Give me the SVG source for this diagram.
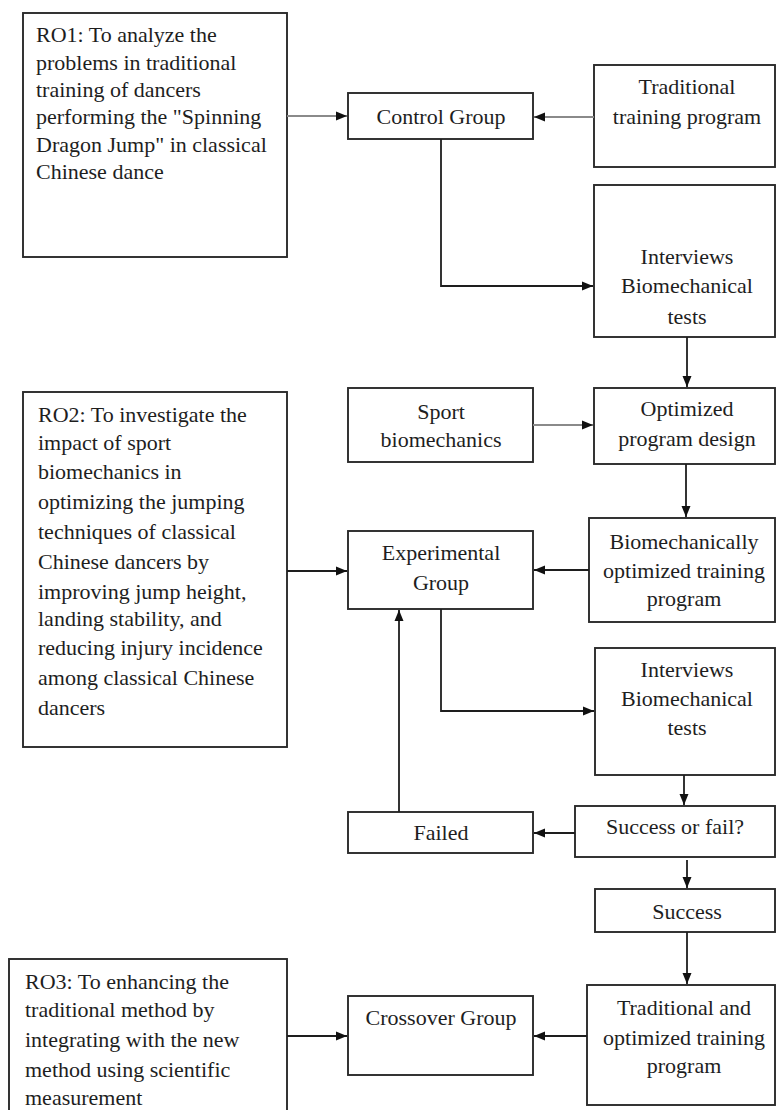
<svg xmlns="http://www.w3.org/2000/svg" width="776" height="1110" viewBox="0 0 776 1110">
<style>
.box{fill:#fff;stroke:#2a2a2a;stroke-width:1.9}
.t{font-family:"Liberation Serif","Times New Roman",serif;font-size:22px;fill:#1e1e1e}
.c{text-anchor:middle}
.ln{fill:none;stroke:#1e1e1e;stroke-width:1.8}
.lg{fill:none;stroke:#8a8a8a;stroke-width:2}
</style>
<defs>
<marker id="ah" markerWidth="12" markerHeight="12" refX="11" refY="6" orient="auto" markerUnits="userSpaceOnUse">
<path d="M0,1.5 L11,6 L0,10.5 Z" fill="#111"/>
</marker>
</defs>
<rect width="776" height="1110" fill="#fff"/>

<g id="ro1">
<rect class="box" x="23" y="13" width="264" height="244"/>
<text class="t" x="36" y="42">RO1: To analyze the</text>
<text class="t" x="36" y="70">problems in traditional</text>
<text class="t" x="36" y="97">training of dancers</text>
<text class="t" x="36" y="124">performing the "Spinning</text>
<text class="t" x="36" y="152">Dragon Jump" in classical</text>
<text class="t" x="36" y="179">Chinese dance</text>
</g>

<g id="control">
<rect class="box" x="348" y="93" width="185" height="46"/>
<text class="t c" x="441" y="124">Control Group</text>
</g>

<g id="traditional">
<rect class="box" x="594" y="65" width="181" height="102"/>
<text class="t c" x="687" y="94">Traditional</text>
<text class="t c" x="687" y="124">training program</text>
</g>

<g id="interviews1">
<rect class="box" x="594" y="185" width="181" height="152"/>
<text class="t c" x="687" y="264">Interviews</text>
<text class="t c" x="687" y="293">Biomechanical</text>
<text class="t c" x="687" y="324">tests</text>
</g>

<g id="sport">
<rect class="box" x="348" y="388" width="185" height="74"/>
<text class="t c" x="441" y="419">Sport</text>
<text class="t c" x="441" y="447">biomechanics</text>
</g>

<g id="optimized">
<rect class="box" x="594" y="388" width="181" height="76"/>
<text class="t c" x="687" y="416">Optimized</text>
<text class="t c" x="687" y="446">program design</text>
</g>

<g id="ro2">
<rect class="box" x="23" y="392" width="264" height="355"/>
<text class="t" x="38" y="422">RO2: To investigate the</text>
<text class="t" x="38" y="450">impact of sport</text>
<text class="t" x="38" y="479">biomechanics in</text>
<text class="t" x="38" y="509">optimizing the jumping</text>
<text class="t" x="38" y="539">techniques of classical</text>
<text class="t" x="38" y="569">Chinese dancers by</text>
<text class="t" x="38" y="599">improving jump height,</text>
<text class="t" x="38" y="626">landing stability, and</text>
<text class="t" x="38" y="655">reducing injury incidence</text>
<text class="t" x="38" y="685">among classical Chinese</text>
<text class="t" x="38" y="715">dancers</text>
</g>

<g id="experimental">
<rect class="box" x="348" y="531" width="185" height="78"/>
<text class="t c" x="441" y="560">Experimental</text>
<text class="t c" x="441" y="590">Group</text>
</g>

<g id="biomech">
<rect class="box" x="589" y="518" width="186" height="104"/>
<text class="t c" x="684" y="549">Biomechanically</text>
<text class="t c" x="684" y="578">optimized training</text>
<text class="t c" x="684" y="606">program</text>
</g>

<g id="interviews2">
<rect class="box" x="595" y="648" width="180" height="127"/>
<text class="t c" x="687" y="677">Interviews</text>
<text class="t c" x="687" y="706">Biomechanical</text>
<text class="t c" x="687" y="735">tests</text>
</g>

<g id="failed">
<rect class="box" x="348" y="812" width="185" height="41"/>
<text class="t c" x="441" y="840">Failed</text>
</g>

<g id="successfail">
<rect class="box" x="575" y="806" width="200" height="51"/>
<text class="t c" x="675" y="834">Success or fail?</text>
</g>

<g id="success">
<rect class="box" x="595" y="889" width="180" height="43"/>
<text class="t c" x="687" y="919">Success</text>
</g>

<g id="ro3">
<rect class="box" x="9" y="959" width="278" height="160"/>
<text class="t" x="25" y="989">RO3: To enhancing the</text>
<text class="t" x="25" y="1017">traditional method by</text>
<text class="t" x="25" y="1047">integrating with the new</text>
<text class="t" x="25" y="1077">method using scientific</text>
<text class="t" x="25" y="1105">measurement</text>
</g>

<g id="crossover">
<rect class="box" x="348" y="996" width="185" height="79"/>
<text class="t c" x="441" y="1025">Crossover Group</text>
</g>

<g id="tradopt">
<rect class="box" x="587" y="985" width="188" height="120"/>
<text class="t c" x="684" y="1015">Traditional and</text>
<text class="t c" x="684" y="1045">optimized training</text>
<text class="t c" x="684" y="1073">program</text>
</g>

<g id="connectors">
<path class="lg" d="M287,116 H347" marker-end="url(#ah)"/>
<path class="lg" d="M594,117 H534" marker-end="url(#ah)"/>
<path class="ln" d="M441,139 V286 H593" marker-end="url(#ah)"/>
<path class="ln" d="M687,337 V387" marker-end="url(#ah)"/>
<path class="lg" d="M533,425 H593" marker-end="url(#ah)"/>
<path class="ln" d="M686,464 V517" marker-end="url(#ah)"/>
<path class="ln" d="M589,570 H534" marker-end="url(#ah)"/>
<path class="ln" d="M287,571 H347" marker-end="url(#ah)"/>
<path class="ln" d="M441,609 V711 H594" marker-end="url(#ah)"/>
<path class="ln" d="M399,812 V610" marker-end="url(#ah)"/>
<path class="ln" d="M684,775 V805" marker-end="url(#ah)"/>
<path class="ln" d="M575,833 H534" marker-end="url(#ah)"/>
<path class="ln" d="M687,860 V888" marker-end="url(#ah)"/>
<path class="ln" d="M687,932 V984" marker-end="url(#ah)"/>
<path class="ln" d="M587,1036 H534" marker-end="url(#ah)"/>
<path class="ln" d="M287,1036 H347" marker-end="url(#ah)"/>
</g>
</svg>
